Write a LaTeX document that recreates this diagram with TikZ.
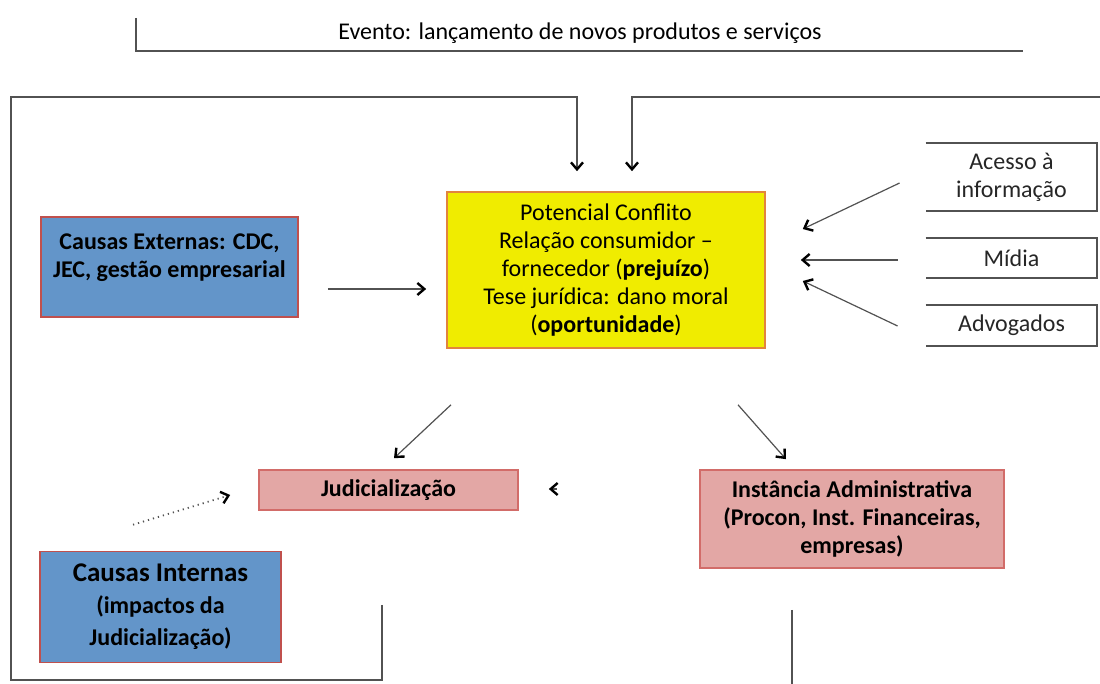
\documentclass[tikz,border=0pt]{standalone}
\usepackage{fontspec}
\setmainfont{Carlito}
\usetikzlibrary{arrows.meta,calc}
\definecolor{causeblue}{RGB}{99,149,201}
\definecolor{causered}{RGB}{192,80,77}
\definecolor{judpink}{RGB}{227,167,165}
\definecolor{judred}{RGB}{210,108,105}
\definecolor{conflyellow}{RGB}{240,236,0}
\definecolor{conflorange}{RGB}{226,132,62}
\definecolor{linegray}{RGB}{82,82,82}
\begin{document}
\begin{tikzpicture}[x=0.5pt,y=-0.5pt,
    every node/.style={font=\fontsize{12}{14}\selectfont, align=center, inner sep=0pt},
    causebox/.style={draw=causered, line width=0.8pt, fill=causeblue, font=\bfseries\fontsize{12}{14}\selectfont},
    judbox/.style={draw=judred, line width=0.8pt, fill=judpink, font=\bfseries\fontsize{12}{14}\selectfont},
    factorbox/.style={minimum width=85.5pt, text=black!85},
    frame/.style={draw=linegray, line width=1pt},
    arr/.style={draw=linegray, line width=0.6pt, -{Straight Barb[length=3.5pt,width=6pt,line width=1.2pt,color=black]}}]
  \useasboundingbox (0,0) rectangle (1100,684);
  \node (evt) at (580,33) {Evento: lançamento de novos produtos e serviços};
  \draw [frame] (136,18) -- (136,51) -- (1023,51);

  \node [draw=conflorange, line width=0.8pt, fill=conflyellow, minimum width=159pt, minimum height=78pt] (pot) at (606,270)
    {Potencial Conflito\\Relação consumidor --\\fornecedor (\textbf{prejuízo})\\Tese jurídica: dano moral\\(\textbf{oportunidade})};
  \node [causebox, minimum width=128.5pt, minimum height=50pt] (ext) at (169.5,267)
    {Causas Externas: CDC,\\JEC, gestão empresarial\\[-3pt]};
  \node [causebox, minimum width=120.5pt, minimum height=55.5pt, font=\bfseries\fontsize{12}{16}\selectfont] (int) at (160.5,607)
    {{\fontsize{13.5}{16}\selectfont Causas Internas}\\(impactos da\\Judicialização)};
  \node [judbox, minimum width=129.5pt, minimum height=20pt] (jud) at (388.5,490) {Judicialização};
  \node [judbox, minimum width=152pt, minimum height=49pt] (inst) at (852,519)
    {Instância Administrativa\\(Procon, Inst. Financeiras,\\empresas)};

  \node [factorbox, minimum height=34pt] (ace) at (1011.5,177) {Acesso à\\informação};
  \node [factorbox, minimum height=20pt] (mid) at (1011.5,258) {Mídia};
  \node [factorbox, minimum height=20.5pt] (adv) at (1011.5,325.5) {Advogados};
  \foreach \f in {ace,mid,adv}
    \draw [frame] (\f.north west) -- (\f.north east) -- (\f.south east) -- (\f.south west);

  \draw [arr] (382,605) -- (382,680) -- (11,680) -- (11,97) -- (577,97) -- ($(pot.north)+(-29,-20)$);
  \draw [arr] (1100,97) -- (632,97) -- ($(pot.north)+(26,-20)$);
  \draw [arr] ($(ext.east)+(29,22)$) -- ($(pot.west)+(-20,19)$);
  \draw [arr] ($(ace.west)+(-26,6)$) -- ($(pot.east)+(37,-41)$);
  \draw [arr] ($(mid.west)+(-28,2)$) -- ($(pot.east)+(35,-10)$);
  \draw [arr] ($(adv.west)+(-28,0.5)$) -- ($(pot.east)+(37,11)$);
  \draw [arr] ($(pot.south)+(-155,56)$) -- ($(jud.north)+(5.5,-11)$);
  \draw [arr] ($(pot.south)+(132,56)$) -- ($(inst.north)+(-66,-10)$);
  \draw [arr, dotted, line width=0.9pt] ($(int.north)+(-27.5,-26)$) -- ($(jud.west)+(-28,5)$);
  \draw [arr] ($(jud.east)+(38,-1)$) -- ($(jud.east)+(30,-1)$);
  \draw [frame] ($(inst.south)+(-60,41)$) -- (792,684);
\end{tikzpicture}
\end{document}
